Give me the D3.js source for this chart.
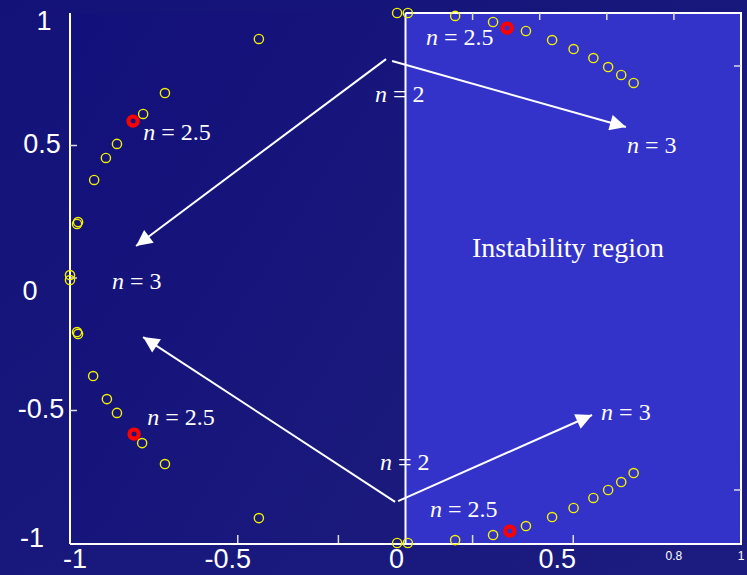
<!DOCTYPE html>
<html><head><meta charset="utf-8">
<script src="https://cdn.jsdelivr.net/npm/d3@7"></script>
<style>html,body{margin:0;padding:0;background:#15157a;overflow:hidden}</style>
</head><body><svg id="c" width="747" height="575"></svg>
<script>
// ---- data ----
const leftUpper = [[-0.437,0.902],[-0.717,0.698],[-0.782,0.619],[-0.860,0.506],[-0.893,0.453],[-0.928,0.370],[-0.976,0.211],[-0.979,0.204],[-1.0,0.011]];
const leftLower = [[-1.0,-0.008],[-0.979,-0.204],[-0.976,-0.211],[-0.931,-0.370],[-0.890,-0.457],[-0.860,-0.509],[-0.785,-0.623],[-0.717,-0.702],[-0.437,-0.906]];
const rightUpper = [[-0.025,1.0],[0.007,1.0],[0.148,0.989],[0.261,0.966],[0.359,0.932],[0.437,0.898],[0.501,0.864],[0.560,0.830],[0.604,0.796],[0.643,0.766],[0.680,0.736]];
const rightLower = [[-0.025,-1.0],[0.007,-1.0],[0.148,-0.989],[0.261,-0.970],[0.359,-0.936],[0.437,-0.902],[0.501,-0.868],[0.560,-0.830],[0.604,-0.800],[0.643,-0.770],[0.680,-0.736]];
const redPoints = [[-0.812,0.592],[-0.809,-0.589],[0.303,0.943],[0.311,-0.955]];
const arrows = [
  [[-0.058,0.826],[-0.803,0.121]],
  [[-0.040,0.819],[0.657,0.570]],
  [[-0.031,-0.845],[-0.782,-0.223]],
  [[-0.022,-0.842],[0.556,-0.517]]
];
const nLabels = [
  ["2.5",-0.782,0.521],["3",-0.875,-0.042],["2.5",-0.770,-0.555],
  ["2.5",0.061,0.879],["2",-0.091,0.664],["3",0.660,0.472],
  ["2",-0.076,-0.725],["3",0.583,-0.536],["2.5",0.073,-0.902]
];
const regionLabel = ["Instability region",0.198,0.079];
const yTickLabels = [[1,"1"],[0.5,"0.5"],[0,"0"],[-0.5,"-0.5"],[-1,"-1"]];
const xTickLabelsBig = [[-1,"-1"],[-0.5,"-0.5"],[0,"0"],[0.5,"0.5"]];
const xTickLabelsSmall = [[0.8,"0.8"],[1,"1"]];
const leftTicks = [0.5,0,-0.5];
const bottomTicks = [-0.5,-0.2,0.2,0.5];
const topTicks = [0.2,0.4,0.6,0.8];
const rightTicks = [0.8,-0.8];

// ---- drawing ----
const svg = d3.select("#c");
const x = d3.scaleLinear().domain([-1,1]).range([70,741]);
const y = d3.scaleLinear().domain([-1,1]).range([543,13]);
const defs = svg.append("defs");
const g1 = defs.append("linearGradient").attr("id","bg").attr("x1","0").attr("y1","0").attr("x2","1").attr("y2","1");
g1.append("stop").attr("offset","0").attr("stop-color","#121278");
g1.append("stop").attr("offset","1").attr("stop-color","#1c1c80");
const g2 = defs.append("linearGradient").attr("id","lp").attr("x1","0").attr("y1","0").attr("x2","1").attr("y2","1");
g2.append("stop").attr("offset","0").attr("stop-color","#12107a");
g2.append("stop").attr("offset","1").attr("stop-color","#1b1a7c");
defs.append("marker").attr("id","ah").attr("viewBox","0 0 10 10").attr("refX",10).attr("refY",5)
  .attr("markerWidth",19).attr("markerHeight",16).attr("markerUnits","userSpaceOnUse").attr("orient","auto")
  .append("path").attr("d","M0,0L10,5L0,10Z").attr("fill","#fff");

svg.append("rect").attr("width",747).attr("height",575).attr("fill","url(#bg)");
svg.append("rect").attr("x",x(-1)).attr("y",y(1)).attr("width",x(0)-x(-1)).attr("height",y(-1)-y(1)).attr("fill","url(#lp)");
svg.append("rect").attr("x",x(0)).attr("y",y(1)).attr("width",x(1)-x(0)).attr("height",y(-1)-y(1)).attr("fill","#3333c9");

// frame
const fr = svg.append("g").attr("stroke","#fff").attr("stroke-width",2).attr("fill","none");
fr.append("line").attr("x1",x(-1)).attr("x2",x(-1)).attr("y1",y(1)).attr("y2",y(-1)+1);
fr.append("line").attr("x1",x(-1)).attr("x2",x(1)+1).attr("y1",y(-1)+1).attr("y2",y(-1)+1);
fr.append("line").attr("x1",x(0)).attr("x2",x(1)+1).attr("y1",y(1)).attr("y2",y(1));
fr.append("line").attr("x1",x(0)).attr("x2",x(0)).attr("y1",y(1)).attr("y2",y(-1));
fr.append("line").attr("x1",x(1)).attr("x2",x(1)).attr("y1",y(1)).attr("y2",y(-1)+1);
const tk = svg.append("g").attr("stroke","#ddd").attr("stroke-width",1.5);
leftTicks.forEach(v=>tk.append("line").attr("x1",x(-1)).attr("x2",x(-1)+7).attr("y1",y(v)).attr("y2",y(v)));
bottomTicks.forEach(v=>tk.append("line").attr("x1",x(v)).attr("x2",x(v)).attr("y1",y(-1)).attr("y2",y(-1)-8));
topTicks.forEach(v=>tk.append("line").attr("x1",x(v)).attr("x2",x(v)).attr("y1",y(1)).attr("y2",y(1)+7));
rightTicks.forEach(v=>tk.append("line").attr("x1",x(1)).attr("x2",x(1)-7).attr("y1",y(v)).attr("y2",y(v)));

// tick labels
const yNudge = {"1":7,"0.5":-2,"0":12,"-0.5":-2,"-1":-6};
const yX = {"1":44,"0.5":42,"0":30,"-0.5":41,"-1":32};
svg.append("g").selectAll("text").data(yTickLabels).join("text")
  .attr("x",d=>yX[d[1]]).attr("y",d=>y(d[0])+yNudge[d[1]]).attr("dy","0.36em")
  .attr("text-anchor","middle").attr("fill","#fff")
  .style("font-family","'Liberation Sans',Arial,sans-serif").style("font-size","27px").text(d=>d[1]);
const xNudge = {"-1":5,"-0.5":-10,"0":-9,"0.5":-16};
svg.append("g").selectAll("text").data(xTickLabelsBig).join("text")
  .attr("x",d=>x(d[0])+xNudge[d[1]]).attr("y",568)
  .attr("text-anchor","middle").attr("fill","#fff")
  .style("font-family","'Liberation Sans',Arial,sans-serif").style("font-size","27px").text(d=>d[1]);
svg.append("g").selectAll("text").data(xTickLabelsSmall).join("text")
  .attr("x",d=>x(d[0])).attr("y",560)
  .attr("text-anchor","middle").attr("fill","#fff")
  .style("font-family","'Liberation Sans',Arial,sans-serif").style("font-size","12px").text(d=>d[1]);

// arrows
svg.append("g").selectAll("line").data(arrows).join("line")
  .attr("x1",d=>x(d[0][0])).attr("y1",d=>y(d[0][1]))
  .attr("x2",d=>x(d[1][0])).attr("y2",d=>y(d[1][1]))
  .attr("stroke","#fff").attr("stroke-width",2).attr("marker-end","url(#ah)");

// points
const pts = leftUpper.concat(leftLower, rightUpper, rightLower);
svg.append("g").selectAll("circle").data(pts).join("circle")
  .attr("cx",d=>x(d[0])).attr("cy",d=>y(d[1])).attr("r",4.6)
  .attr("fill","none").attr("stroke","#f2f200").attr("stroke-width",1.4);
svg.append("g").selectAll("circle").data(redPoints).join("circle")
  .attr("cx",d=>x(d[0])).attr("cy",d=>y(d[1])).attr("r",4.6)
  .attr("fill","none").attr("stroke","#ff0000").attr("stroke-width",4.2);

// labels
const lab = svg.append("g").attr("fill","#fff").style("font-family","'Liberation Serif','Times New Roman',serif").style("font-size","24px");
nLabels.forEach(d=>{
  const t = lab.append("text").attr("x",x(d[1])).attr("y",y(d[2])).attr("xml:space","preserve");
  t.append("tspan").style("font-style","italic").text("n");
  t.append("tspan").text(" = " + d[0]);
});
svg.append("text").attr("x",x(regionLabel[1])).attr("y",y(regionLabel[2]))
  .attr("fill","#fff").style("font-family","'Liberation Serif','Times New Roman',serif").style("font-size","28px")
  .text(regionLabel[0]);
</script></body></html>
